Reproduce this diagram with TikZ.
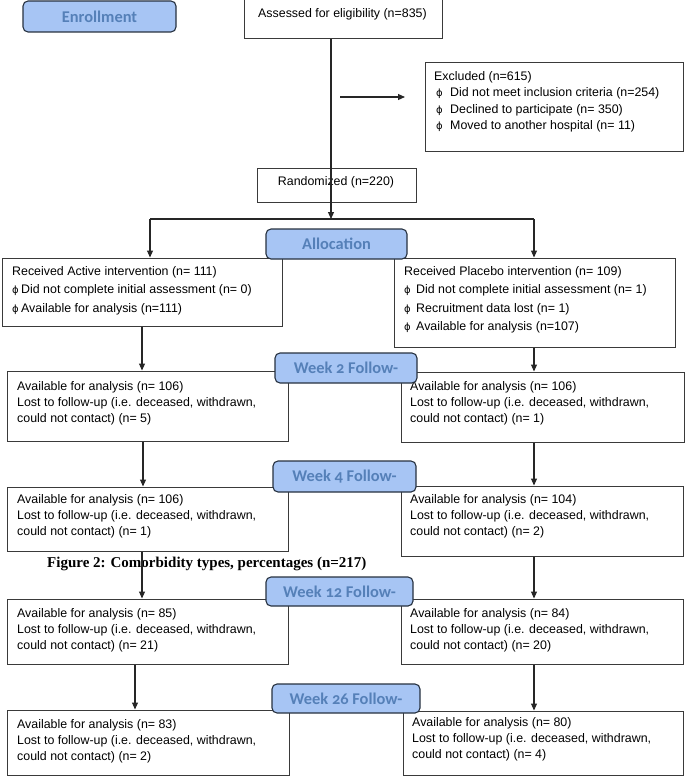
\documentclass[tikz,border=0pt]{standalone}
\usepackage{fontspec}
\setmainfont{Liberation Sans}
\newfontfamily\badgefont[Numbers=OldStyle]{Carlito}
\newfontfamily\capfont{Liberation Serif}
\newfontfamily\symfont{DejaVu Sans}
\usetikzlibrary{arrows.meta,fit}
\definecolor{bfill}{HTML}{A7C5F4}
\definecolor{bdraw}{HTML}{26313F}
\definecolor{btext}{HTML}{5580B8}
\definecolor{lgray}{HTML}{3A3A3A}
\newcommand{\phib}[2]{\hspace*{#1pt}\makebox[#2pt][l]{\symfont\fontsize{10}{10}\selectfont ϕ}}
\begin{document}
\begin{tikzpicture}[x=1pt,y=-1pt,
  box/.style={draw=lgray, line width=1pt, fill=white, inner sep=0pt},
  badge/.style={draw=bdraw, fill=bfill, rounded corners=5pt, line width=1.1pt, inner sep=0pt,
    font=\badgefont\bfseries\fontsize{16.4}{18}\selectfont, text=btext},
  btxt/.style={font=\badgefont\bfseries\fontsize{16.4}{18}\selectfont, text=btext},
  txt/.style={anchor=north west, inner sep=0pt, align=left, font=\fontsize{12.4}{16.4}\selectfont},
  txtb/.style={anchor=north west, inner sep=0pt, align=left, font=\fontsize{12.4}{18.5}\selectfont},
  arr/.style={draw=black!85, line width=1.1pt, -{Triangle[length=7pt,width=6pt]}},
  ln/.style={draw=black!85, line width=1.1pt}]
\useasboundingbox (0,0) rectangle (685,776);

% enrollment
\node[badge, fit={(23,1)(176,32)}] (enr) {};
\node[btxt] (enr-t) at (enr.center) {Enrollment};

% assessed
\node[box, fit={(244,0)(442,39)}] (ass) {};
\node[txt] (ass-t) at (258,8) {Assessed for eligibility (n=835)};

% excluded
\node[box, fit={(425,63)(683,151)}] (exc) {};
\node[txt, font=\fontsize{12.4}{16.6}\selectfont] (exc-t) at (434,71) {Excluded (n=615)\\
\phib{2}{14}Did not meet inclusion criteria (n=254)\\
\phib{2}{14}Declined to participate (n= 350)\\
\phib{2}{14}Moved to another hospital (n= 11)};

% randomized
\node[box, fit={(257,168)(416,202)}] (rnd) {};
\node[font=\fontsize{12.4}{16}\selectfont, inner sep=0pt] (rnd-t) at (336,182) {Randomized (n=220)};

% main arrow and excluded arrow
\coordinate (top) at (331,219);
\draw[arr] (ass.south -| top) -- (top);
\coordinate (ex0) at (340,97);
\coordinate (ex1) at (405,97);
\draw[arr] (ex0) -- (ex1);

% bracket
\coordinate (bl) at (150,219);
\coordinate (br) at (534,219);

% active / placebo
\node[box, fit={(2,258)(282,326)}] (act) {};
\node[txtb] (act-t) at (12,266) {Received Active intervention (n= 111)\\
\phib{0}{9}Did not complete initial assessment (n= 0)\\
\phib{0}{9}Available for analysis (n=111)};
\node[box, fit={(394,258)(675,347)}] (plc) {};
\node[txtb] (plc-t) at (404,266) {Received Placebo intervention (n= 109)\\
\phib{0}{12}Did not complete initial assessment (n= 1)\\
\phib{0}{12}Recruitment data lost (n= 1)\\
\phib{0}{12}Available for analysis (n=107)};

\draw[ln] (bl) -- (br);
\draw[arr] (bl) -- (bl |- act.north);
\draw[arr] (br) -- (br |- plc.north);

% week 2
\node[box, fit={(7,371)(288,441)}] (w2l) {};
\node[txt] (w2l-t) at (17,381) {Available for analysis (n= 106)\\Lost to follow-up (i.e. deceased, withdrawn,\\could not contact) (n= 5)};
\node[box, fit={(401,372)(684,442)}] (w2r) {};
\node[txt] (w2r-t) at (410,381) {Available for analysis (n= 106)\\Lost to follow-up (i.e. deceased, withdrawn,\\could not contact) (n= 1)};

% week 4
\node[box, fit={(7,487)(288,551)}] (w4l) {};
\node[txt] (w4l-t) at (17,494) {Available for analysis (n= 106)\\Lost to follow-up (i.e. deceased, withdrawn,\\could not contact) (n= 1)};
\node[box, fit={(401,486)(683,556)}] (w4r) {};
\node[txt] (w4r-t) at (410,494) {Available for analysis (n= 104)\\Lost to follow-up (i.e. deceased, withdrawn,\\could not contact) (n= 2)};

% caption
\node[anchor=base west, inner sep=0pt, font=\capfont\bfseries\fontsize{15}{16}\selectfont] (cap) at (47,567) {Figure 2: Comorbidity types, percentages (n=217)};

% week 12
\node[box, fit={(7,599)(288,664)}] (w12l) {};
\node[txt] (w12l-t) at (17,608) {Available for analysis (n= 85)\\Lost to follow-up (i.e. deceased, withdrawn,\\could not contact) (n= 21)};
\node[box, fit={(401,599)(683,664)}] (w12r) {};
\node[txt] (w12r-t) at (410,608) {Available for analysis (n= 84)\\Lost to follow-up (i.e. deceased, withdrawn,\\could not contact) (n= 20)};

% week 26
\node[box, fit={(7,710)(289,775)}] (w26l) {};
\node[txt] (w26l-t) at (17,719) {Available for analysis (n= 83)\\Lost to follow-up (i.e. deceased, withdrawn,\\could not contact) (n= 2)};
\node[box, fit={(403,711)(683,775)}] (w26r) {};
\node[txt] (w26r-t) at (412,717) {Available for analysis (n= 80)\\Lost to follow-up (i.e. deceased, withdrawn,\\could not contact) (n= 4)};

% vertical arrows
\coordinate (a1) at (142,0);
\coordinate (a2) at (143,0);
\coordinate (a3) at (135,0);
\coordinate (ar) at (534,0);
\draw[arr] (act.south -| a1) -- (w2l.north -| a1);
\draw[arr] (plc.south -| ar) -- (w2r.north -| ar);
\draw[arr] (w2l.south -| a2) -- (w4l.north -| a2);
\draw[arr] (w2r.south -| ar) -- (w4r.north -| ar);
\draw[arr] (w4l.south -| a1) -- (w12l.north -| a1);
\draw[arr] (w4r.south -| ar) -- (w12r.north -| ar);
\draw[arr] (w12l.south -| a3) -- (w26l.north -| a3);
\draw[arr] (w12r.south -| ar) -- (w26r.north -| ar);

% badges
\node[badge, fit={(266,229)(407,259)}] (alloc) {};
\node[btxt] (alloc-t) at (alloc.center) {Allocation};
\node[badge, fit={(275,353)(417,383)}] (wk2) {};
\node[btxt] (wk2-t) at (wk2.center) {Week 2 Follow-};
\node[badge, fit={(273,461)(416,492)}] (wk4) {};
\node[btxt] (wk4-t) at (wk4.center) {Week 4 Follow-};
\node[badge, fit={(266,577)(413,606)}] (wk12) {};
\node[btxt] (wk12-t) at (wk12.center) {Week 12 Follow-};
\node[badge, fit={(272,684)(420,713)}] (wk26) {};
\node[btxt] (wk26-t) at (wk26.center) {Week 26 Follow-};
\end{tikzpicture}
\end{document}
